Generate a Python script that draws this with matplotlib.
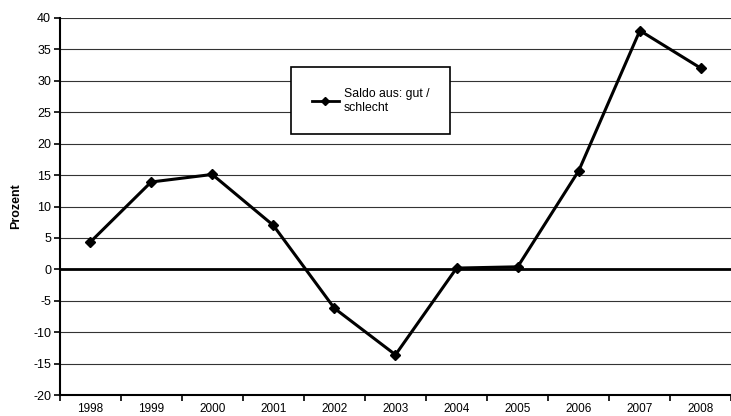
import matplotlib
matplotlib.use('Agg')
import matplotlib.pyplot as plt
from matplotlib.lines import Line2D

# Chart data
years = ['1998', '1999', '2000', '2001', '2002', '2003', '2004', '2005', '2006', '2007', '2008']
saldo = [4.3, 13.9, 15.1, 7.0, -6.2, -13.6, 0.2, 0.4, 15.7, 38.0, 32.0]
series_label = 'Saldo aus: gut /\nschlecht'

plt.rcParams['font.family'] = ['Liberation Sans', 'DejaVu Sans']
plt.rcParams['axes.unicode_minus'] = False

fig = plt.figure(figsize=(7.31, 4.16), dpi=100)
ax = fig.add_axes([59.5 / 731, 21 / 416, 672 / 731, 377 / 416])

x = list(range(len(years)))
ax.plot(x, saldo, color='black', linewidth=2.2, marker='D', markersize=5.5, zorder=3)

ax.set_xlim(-0.5, len(years) - 0.5)
ax.set_ylim(-20, 40)
ax.set_yticks(range(-20, 41, 5))
ax.set_xticks(x)
ax.set_xticklabels(years)
ax.set_xticks([i - 0.5 for i in range(len(years) + 1)], minor=True)
ax.tick_params(axis='x', which='major', length=0, labelsize=8.5, pad=6)
ax.tick_params(axis='x', which='minor', length=4, width=1.2, direction='out')
ax.tick_params(axis='y', labelsize=9, length=4, width=1.2, direction='out', pad=2)

for y in range(-20, 41, 5):
    if y != 0:
        ax.axhline(y, color='#333333', linewidth=0.8, zorder=1)
ax.axhline(0, color='black', linewidth=2, zorder=2)

for side in ['top', 'right']:
    ax.spines[side].set_visible(False)
ax.spines['left'].set_linewidth(1.5)
ax.spines['bottom'].set_linewidth(1.5)

ax.set_ylabel('Prozent', fontsize=9, fontweight='bold', labelpad=8)

handle = Line2D([], [], color='black', linewidth=2, marker='D', markersize=4)
leg = ax.legend([handle], [series_label], loc='upper left',
                bbox_to_anchor=((291 - 59.5) / 672, (416 - 21 - 67) / 377),
                fontsize=8.8, frameon=True, fancybox=False, handlelength=2.2,
                borderpad=1.7, handletextpad=0.4, borderaxespad=0)
leg.get_frame().set_edgecolor('black')
leg.get_frame().set_linewidth(1.2)
leg.get_frame().set_facecolor('white')
leg.get_frame().set_alpha(1)

fig.savefig('out.png', dpi=100)
